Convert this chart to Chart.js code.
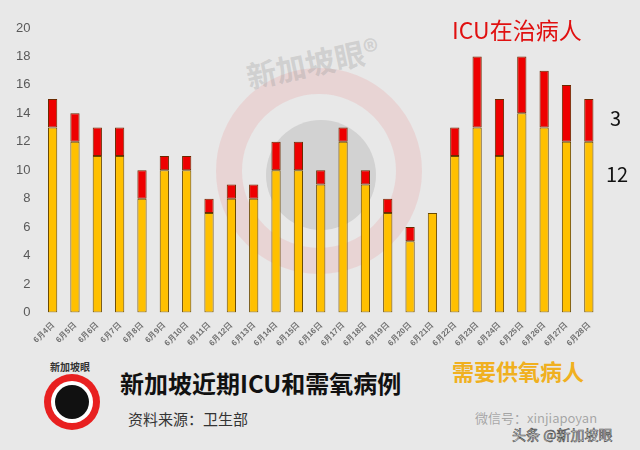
<!DOCTYPE html>
<html>
<head>
<meta charset="utf-8">
<script src="https://cdn.jsdelivr.net/npm/chart.js@4"></script>
<style>
  body { margin: 0; }
  #wrap { position: relative; width: 640px; height: 450px; background: #e8e8e8; overflow: hidden; font-family: "Noto Sans CJK SC", "Noto Sans", sans-serif; }
  #box { position: absolute; left: 0; top: 0; width: 640px; height: 348px; }
  .t { position: absolute; white-space: nowrap; }
  .ring { position: absolute; border-radius: 50%; }
</style>
</head>
<body>
<div id="wrap">
  <!-- 背景水印 -->
  <div class="ring" style="left:216px;top:68px;width:154px;height:154px;border:26px solid rgba(235,110,110,0.16);"></div>
  <div class="ring" style="left:266px;top:120px;width:110px;height:110px;background:rgba(110,110,110,0.18);"></div>
  <div class="t" style="left:245px;top:40px;font-size:30px;font-weight:bold;color:rgba(150,150,150,0.3);transform:rotate(-12deg);">新加坡眼®</div>

  <div id="box"><canvas id="myChart"></canvas></div>

  <div class="t" style="left:452px;top:12px;font-size:23px;color:#e01010;">ICU在治病人</div>
  <div class="t" style="left:610px;top:103px;font-size:20px;color:#111;">3</div>
  <div class="t" style="left:606px;top:159px;font-size:20px;color:#111;">12</div>
  <div class="t" style="left:452px;top:354px;font-size:22px;font-weight:bold;color:#f0b020;">需要供氧病人</div>

  <!-- 左下角标志 -->
  <div class="ring" style="left:44px;top:374px;width:56px;height:56px;background:#e82020;"></div>
  <div class="ring" style="left:51px;top:381px;width:42px;height:42px;background:#fff;"></div>
  <div class="ring" style="left:55px;top:385px;width:34px;height:34px;background:#111;"></div>
  <div class="t" style="left:50px;top:359px;font-size:10px;font-weight:bold;color:#333;">新加坡眼</div>

  <div class="t" style="left:120px;top:365px;font-size:24px;font-weight:bold;color:#111;">新加坡近期ICU和需氧病例</div>
  <div class="t" style="left:128px;top:408px;font-size:15px;color:#333;">资料来源：卫生部</div>
  <div class="t" style="left:475px;top:408px;font-size:13px;color:rgba(120,120,120,0.6);">微信号：xinjiapoyan</div>
  <div class="t" style="left:512px;top:424px;font-size:14px;color:#fff;-webkit-text-stroke:0.6px #444;">头条 @新加坡眼</div>
</div>
<script>
const riqi = ['6月4日','6月5日','6月6日','6月7日','6月8日','6月9日','6月10日','6月11日','6月12日','6月13日',
  '6月14日','6月15日','6月16日','6月17日','6月18日','6月19日','6月20日','6月21日','6月22日','6月23日',
  '6月24日','6月25日','6月26日','6月27日','6月28日'];
const gongyang = [13,12,11,11,8,10,10,7,8,8,10,10,9,12,9,7,5,7,11,13,11,14,13,12,12];
const icu      = [2,2,2,2,2,1,1,1,1,1,2,2,1,1,1,1,1,0,2,5,4,4,4,4,3];
const yTicks   = [0,2,4,6,8,10,12,14,16,18,20];

const config = {
  type: 'bar',
  data: {
    labels: riqi,
    datasets: [
      { label: '需要供氧病人', data: gongyang, backgroundColor: '#ffc000', borderColor: '#6b4a00', borderWidth: 1, borderSkipped: false },
      { label: 'ICU在治病人', data: icu, backgroundColor: '#ee0000', borderColor: '#6b2a00', borderWidth: 1, borderSkipped: false }
    ]
  },
  options: {
    responsive: true,
    maintainAspectRatio: false,
    animation: false,
    datasets: { bar: { barPercentage: 0.46, categoryPercentage: 0.9 } },
    layout: { padding: { top: 28, right: 40, left: 13, bottom: 0 } },
    plugins: { legend: { display: false }, tooltip: { enabled: false } },
    scales: {
      x: {
        stacked: true,
        grid: { display: false },
        border: { display: false },
        ticks: { color: '#6f6f6f', font: { size: 8, weight: 'bold' }, maxRotation: 45, minRotation: 45, autoSkip: false, padding: 0 }
      },
      y: {
        stacked: true,
        min: 0, max: 20,
        afterBuildTicks: s => { s.ticks = yTicks.map(v => ({ value: v })); },
        grid: { display: false },
        border: { display: false },
        ticks: { color: '#595959', font: { size: 13 }, padding: 3 }
      }
    }
  }
};
new Chart(document.getElementById('myChart'), config);
</script>
</body>
</html>
